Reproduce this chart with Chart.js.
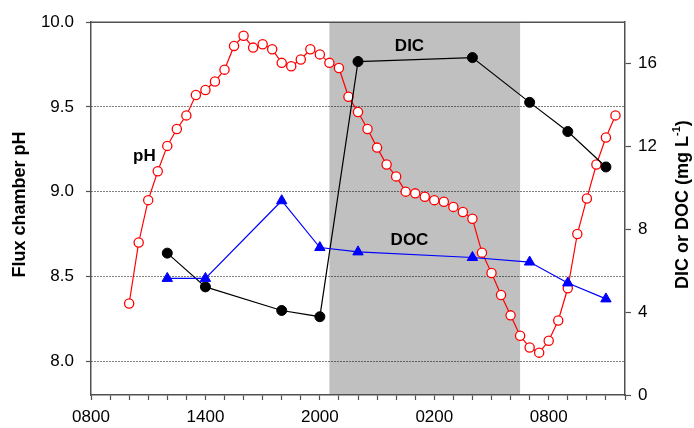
<!DOCTYPE html>
<html>
<head>
<meta charset="utf-8">
<script src="https://cdn.jsdelivr.net/npm/chart.js@4.4.1/dist/chart.umd.min.js"></script>
<style>
  html, body { margin: 0; padding: 0; background: #fff; }
  #wrap { width: 694px; height: 428px; }
</style>
</head>
<body>
<div id="wrap"><canvas id="chart" width="694" height="428"></canvas></div>
<script>
// Time axis: hours elapsed since 08:00 on the first day
const phHours = [
  2.0, 2.5, 3.0, 3.5, 4.0, 4.5, 5.0, 5.5, 6.0, 6.5,
  7.0, 7.5, 8.0, 8.5, 9.0, 9.5, 10.0, 10.5, 11.0, 11.5,
  12.0, 12.5, 13.0, 13.5, 14.0, 14.5, 15.0, 15.5, 16.0, 16.5,
  17.0, 17.5, 18.0, 18.5, 19.0, 19.5, 20.0, 20.5, 21.0, 21.5,
  22.0, 22.5, 23.0, 23.5, 24.0, 24.5, 25.0, 25.5, 26.0, 26.5,
  27.0, 27.5
];
const phValues = [
  8.34, 8.70, 8.95, 9.12, 9.27, 9.37, 9.45, 9.57, 9.60, 9.65,
  9.72, 9.86, 9.92, 9.85, 9.87, 9.84, 9.76, 9.74, 9.78, 9.84,
  9.81, 9.76, 9.73, 9.56, 9.47, 9.37, 9.26, 9.16, 9.09, 9.00,
  8.99, 8.97, 8.95, 8.94, 8.91, 8.88, 8.84, 8.64, 8.52, 8.39,
  8.27, 8.15, 8.08, 8.05, 8.12, 8.24, 8.43, 8.75, 8.96, 9.16,
  9.32, 9.45
];

// Water samples for dissolved carbon (mg L-1)
const sampleHours = [4, 6, 10, 12, 14, 20, 23, 25, 27];
const dicValues = [6.85, 5.22, 4.08, 3.78, 16.10, 16.29, 14.13, 12.72, 11.01];
const docValues = [5.63, 5.63, 9.38, 7.12, 6.91, 6.64, 6.42, 5.41, 4.64];

// Dark period (sunset to sunrise), hours since 08:00
const darkPeriod = [12.5, 22.5];

// Axis ticks
const clockLabels = ['0800', '1400', '2000', '0200', '0800'];
const phTicks = [8.0, 8.5, 9.0, 9.5, 10.0];
const concTicks = [0, 4, 8, 12, 16];

// In-plot series names: text, time, value, axis
const seriesNames = [
  { text: 'pH',  hour: 2.8,  value: 9.21,  axis: 'y' },
  { text: 'DIC', hour: 16.7, value: 16.85, axis: 'y1' },
  { text: 'DOC', hour: 16.7, value: 7.49,  axis: 'y1' }
];

const FONT = '"Liberation Sans", Arial, Helvetica, sans-serif';
const AXIS_COLOR = '#505050';
Chart.defaults.font.family = FONT;
Chart.defaults.color = '#000';

const toPoints = (xs, ys) => xs.map((x, i) => ({ x: x, y: ys[i] }));

// Grey shading for the dark period, under the grid lines
const nightBand = {
  id: 'nightBand',
  beforeDraw(chart) {
    const { ctx, chartArea, scales } = chart;
    const x0 = scales.x.getPixelForValue(darkPeriod[0]);
    const x1 = scales.x.getPixelForValue(darkPeriod[1]);
    ctx.save();
    ctx.fillStyle = '#c0c0c0';
    ctx.fillRect(x0, chartArea.top, x1 - x0, chartArea.bottom - chartArea.top);
    ctx.restore();
  }
};

// Closing top edge of the plot frame
const topFrame = {
  id: 'topFrame',
  afterDraw(chart) {
    const { ctx, chartArea } = chart;
    ctx.save();
    ctx.strokeStyle = AXIS_COLOR;
    ctx.lineWidth = 1.5;
    ctx.beginPath();
    ctx.moveTo(chartArea.left, chartArea.top);
    ctx.lineTo(chartArea.right, chartArea.top);
    ctx.stroke();
    ctx.restore();
  }
};

// Series names written next to their curves
const seriesLabels = {
  id: 'seriesLabels',
  afterDatasetsDraw(chart) {
    const { ctx, scales } = chart;
    ctx.save();
    ctx.font = 'bold 17px ' + FONT;
    ctx.fillStyle = '#000';
    ctx.textAlign = 'center';
    ctx.textBaseline = 'middle';
    seriesNames.forEach(s => {
      ctx.fillText(s.text, scales.x.getPixelForValue(s.hour), scales[s.axis].getPixelForValue(s.value));
    });
    ctx.restore();
  }
};

// Vertical axis titles (the right one carries a superscript)
const axisTitles = {
  id: 'axisTitles',
  afterDraw(chart) {
    const { ctx, chartArea } = chart;
    const midY = (chartArea.top + chartArea.bottom) / 2 - 4;
    ctx.save();
    ctx.fillStyle = '#000';
    ctx.textBaseline = 'middle';

    // left: pH
    ctx.save();
    ctx.translate(chartArea.left - 71, midY);
    ctx.rotate(-Math.PI / 2);
    ctx.font = 'bold 18px ' + FONT;
    ctx.textAlign = 'center';
    ctx.fillText('Flux chamber pH', 0, 0);
    ctx.restore();

    // right: concentration
    const main = 'DIC or DOC (mg L';
    const sup = '-1';
    const close = ')';
    ctx.save();
    ctx.translate(chartArea.right + 58, midY);
    ctx.rotate(-Math.PI / 2);
    ctx.textAlign = 'left';
    ctx.font = 'bold 18px ' + FONT;
    const wMain = ctx.measureText(main).width;
    const wClose = ctx.measureText(close).width;
    ctx.font = 'bold 11px ' + FONT;
    const wSup = ctx.measureText(sup).width;
    let x = -(wMain + wSup + wClose) / 2;
    ctx.font = 'bold 18px ' + FONT;
    ctx.fillText(main, x, 0);
    x += wMain;
    ctx.font = 'bold 11px ' + FONT;
    ctx.fillText(sup, x, -6);
    x += wSup;
    ctx.font = 'bold 18px ' + FONT;
    ctx.fillText(close, x, 0);
    ctx.restore();

    ctx.restore();
  }
};

new Chart(document.getElementById('chart'), {
  type: 'line',
  data: {
    datasets: [
      {
        label: 'DOC',
        data: toPoints(sampleHours, docValues),
        yAxisID: 'y1',
        borderColor: '#0000ff',
        backgroundColor: '#0000ff',
        borderWidth: 1.2,
        pointStyle: 'triangle',
        pointRadius: 6,
        pointBackgroundColor: '#0000ff',
        pointBorderColor: '#0000ff',
        pointBorderWidth: 1,
        tension: 0,
        order: 1
      },
      {
        label: 'DIC',
        data: toPoints(sampleHours, dicValues),
        yAxisID: 'y1',
        borderColor: '#000000',
        backgroundColor: '#000000',
        borderWidth: 1.2,
        pointStyle: 'circle',
        pointRadius: 5,
        pointBackgroundColor: '#000000',
        pointBorderColor: '#000000',
        pointBorderWidth: 1,
        tension: 0,
        order: 2
      },
      {
        label: 'pH',
        data: toPoints(phHours, phValues),
        yAxisID: 'y',
        borderColor: '#ff0000',
        backgroundColor: '#ffffff',
        borderWidth: 1.2,
        pointStyle: 'circle',
        pointRadius: 4.6,
        pointBackgroundColor: '#ffffff',
        pointBorderColor: '#ff0000',
        pointBorderWidth: 1.3,
        tension: 0,
        order: 3
      }
    ]
  },
  options: {
    responsive: false,
    animation: false,
    devicePixelRatio: 1,
    layout: { padding: { top: 20, left: 0, right: 0, bottom: 0 } },
    plugins: {
      legend: { display: false },
      tooltip: { enabled: false }
    },
    scales: {
      x: {
        type: 'linear',
        position: 'bottom',
        min: 0,
        max: 28,
        afterFit(scale) { scale.height = 33; },
        ticks: {
          stepSize: 1,
          autoSkip: false,
          maxRotation: 0,
          padding: 7,
          font: { size: 17 },
          color: '#000',
          callback: v => (v % 6 === 0 ? clockLabels[v / 6] : '')
        },
        grid: {
          drawOnChartArea: false,
          drawTicks: true,
          tickLength: 5,
          tickColor: AXIS_COLOR,
          tickWidth: 1.2
        },
        border: { display: true, color: AXIS_COLOR, width: 1.5 }
      },
      y: {
        type: 'linear',
        position: 'left',
        min: 7.8,
        max: 10.0,
        afterFit(scale) { scale.width = 91; },
        afterBuildTicks(scale) { scale.ticks = phTicks.map(v => ({ value: v })); },
        ticks: {
          padding: 12,
          font: { size: 17 },
          color: '#000',
          callback: v => Number(v).toFixed(1)
        },
        grid: {
          drawOnChartArea: true,
          drawTicks: true,
          tickLength: 5,
          lineWidth: 1,
          color: c => (c.tick && c.tick.value < 9.99 ? '#000000' : 'rgba(0,0,0,0)'),
          tickColor: AXIS_COLOR,
          tickWidth: 1.2,
          tickBorderDash: []
        },
        border: { display: true, color: AXIS_COLOR, width: 1.5, dash: [1, 2] }
      },
      y1: {
        type: 'linear',
        position: 'right',
        min: 0,
        max: 18,
        afterFit(scale) { scale.width = 69; },
        afterBuildTicks(scale) { scale.ticks = concTicks.map(v => ({ value: v })); },
        ticks: {
          padding: 7,
          font: { size: 17 },
          color: '#000'
        },
        grid: {
          drawOnChartArea: false,
          drawTicks: true,
          tickLength: 6,
          tickColor: AXIS_COLOR,
          tickWidth: 1.2
        },
        border: { display: true, color: AXIS_COLOR, width: 1.5 }
      }
    }
  },
  plugins: [nightBand, topFrame, seriesLabels, axisTitles]
});
</script>
</body>
</html>
